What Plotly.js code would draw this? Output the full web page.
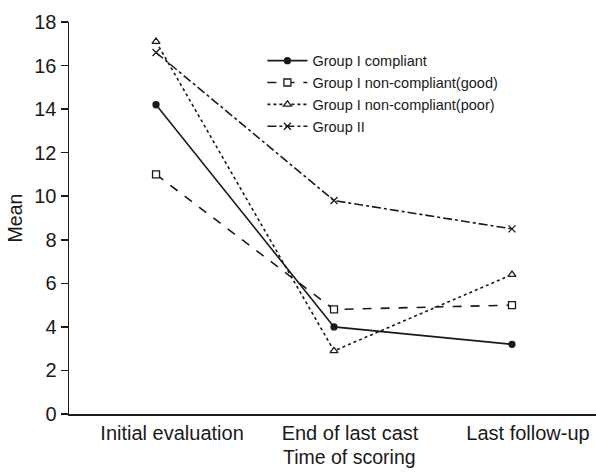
<!DOCTYPE html>
<html>
<head>
<meta charset="utf-8">
<script src="https://cdn.plot.ly/plotly-3.0.1.min.js"></script>
<style>html,body{margin:0;padding:0;background:#fff;}</style>
</head>
<body>
<div id="chart" style="width:596px;height:473px;"></div>
<script>
const categories = ["Initial evaluation", "End of last cast", "Last follow-up"];
const seriesNames = ["Group I compliant", "Group I non-compliant(good)", "Group I non-compliant(poor)", "Group II"];
const compliant = [14.2, 4.0, 3.2];
const nonCompliantGood = [11.0, 4.8, 5.0];
const nonCompliantPoor = [17.1, 2.9, 6.4];
const groupII = [16.6, 9.8, 8.5];
const yTicks = [0, 2, 4, 6, 8, 10, 12, 14, 16, 18];

const ink = "#1a1a1a";
const fontFam = "Liberation Sans, Arial, sans-serif";
const xIdx = categories.map((c, i) => i);
const labelShift = 0.09; // category labels sit slightly right of the points in the original

function tr(name, y, dash, symbol, msize, fill) {
  return {
    type: "scatter", mode: "lines+markers", name: name,
    x: xIdx, y: y,
    line: {color: ink, width: 1.6, dash: dash},
    marker: {symbol: symbol, size: msize, color: fill,
             line: {color: ink, width: 1.3}}
  };
}

const data = [
  tr(seriesNames[0], compliant, "solid", "circle", 6, ink),
  tr(seriesNames[1], nonCompliantGood, "dash", "square", 7, "#fff"),
  tr(seriesNames[2], nonCompliantPoor, "dot", "triangle-up", 7, "#fff"),
  tr(seriesNames[3], groupII, "dashdot", "x-thin", 7, ink)
];

const layout = {
  width: 596, height: 473,
  margin: {l: 69, r: 0, t: 22, b: 59},
  paper_bgcolor: "#fff", plot_bgcolor: "#fff",
  font: {family: fontFam, color: ink, size: 20},
  showlegend: true,
  legend: {
    x: 0.367, y: 0.942, xanchor: "left", yanchor: "top",
    bgcolor: "rgba(0,0,0,0)", font: {size: 14.5, color: ink},
    tracegroupgap: 0, itemwidth: 40
  },
  xaxis: {
    range: [-0.489, 2.472], showgrid: false, zeroline: false,
    showline: true, linecolor: ink, linewidth: 1.5,
    tickmode: "array", tickvals: xIdx.map(i => i + labelShift), ticktext: categories,
    ticks: "", tickfont: {size: 20}, fixedrange: true
  },
  yaxis: {
    range: [0, 18], showgrid: false, zeroline: false,
    showline: true, linecolor: ink, linewidth: 1.5,
    tickmode: "array", tickvals: yTicks,
    ticks: "outside", ticklen: 7, tickwidth: 1.5, tickcolor: ink,
    tickfont: {size: 20},
    title: {text: "Mean", font: {size: 19.5}, standoff: 6}
  },
  annotations: [{
    text: "Time of scoring", xref: "paper", yref: "paper",
    x: (349 - 69) / 527, y: -0.11, xanchor: "center", yanchor: "middle",
    showarrow: false, font: {size: 19.5, color: ink}
  }]
};

Plotly.newPlot("chart", data, layout, {displayModeBar: false, staticPlot: true});
</script>
</body>
</html>
